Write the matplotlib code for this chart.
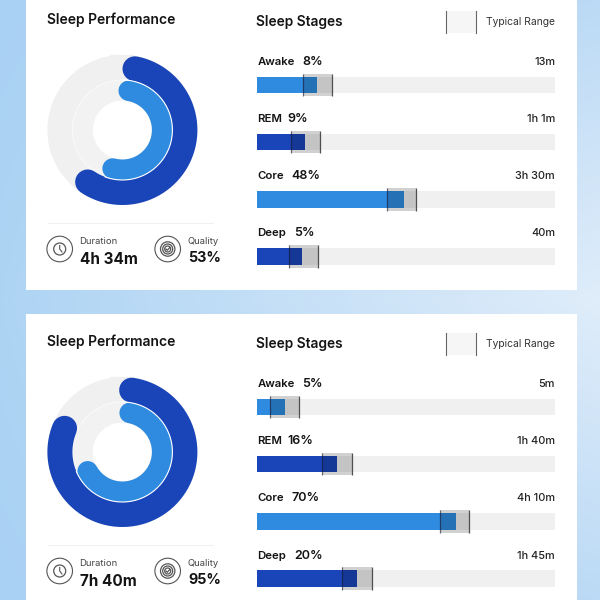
import numpy as np
import matplotlib
matplotlib.use("Agg")
import matplotlib.pyplot as plt
from matplotlib.patches import Rectangle, Circle

plt.rcParams['font.family'] = ['Inter', 'DejaVu Sans']

# ---- data ----
stages = ["Awake", "REM", "Core", "Deep"]
percent_a = ["8%", "9%", "48%", "5%"]
percent_b = ["5%", "16%", "70%", "20%"]
times_a = ["13m", "1h 1m", "3h 30m", "40m"]
times_b = ["5m", "1h 40m", "4h 10m", "1h 45m"]
bar_a = [20.1, 16.2, 49.4, 15.1]
bar_b = [9.3, 26.8, 66.9, 33.7]
range_lo_a = [15.3, 11.3, 43.5, 10.7]
range_hi_a = [25.3, 21.1, 53.3, 20.6]
range_lo_b = [4.4, 21.9, 61.4, 28.6]
range_hi_b = [14.2, 31.8, 71.2, 38.5]
ring_outer_a = (11.6, 213.8)
ring_inner_a = (9.1, 194.3)
ring_outer_b = (8.5, 292.3)
ring_inner_b = (10.5, 241.0)
duration_a, quality_a = "4h 34m", "53%"
duration_b, quality_b = "7h 40m", "95%"

DARK = "#1a45b8"
LIGHT = "#2e8bdf"
TRACK = "#f0f0f0"
INK = "#141414"
PCT_X = [302, 287, 291, 294]

fig = plt.figure(figsize=(6, 6), dpi=100)
bg = fig.add_axes([0, 0, 1, 1], zorder=0)
bg.axis("off")

# background gradient: corner colours blended across the figure
left = np.array([[0xa9, 0xd1, 0xf3], [0xae, 0xd4, 0xf4], [0xa9, 0xd1, 0xf3]], float) / 255
right = np.array([[0xbc, 0xda, 0xf5], [0xe0, 0xed, 0xfa], [0xbc, 0xda, 0xf5]], float) / 255
u = np.linspace(0, 1, 300)
v = np.linspace(0, 1, 300)
L = np.stack([np.interp(v, [0, 0.5, 1], left[:, i]) for i in range(3)], axis=-1)
Rr = np.stack([np.interp(v, [0, 0.5, 1], right[:, i]) for i in range(3)], axis=-1)
grad = L[:, None, :] * (1 - u[None, :, None]) + Rr[:, None, :] * u[None, :, None]
bg.imshow(grad, extent=(0, 600, 600, 0), aspect="auto", zorder=0)
bg.set_xlim(0, 600)
bg.set_ylim(600, 0)

def px_axes(x0, y0, x1, y1, **kw):
    return fig.add_axes([x0 / 600, 1 - y1 / 600, (x1 - x0) / 600, (y1 - y0) / 600], zorder=1, **kw)

def T(x, y, s, size, weight="normal", color=INK, ha="left"):
    bg.text(x, y, s, fontsize=size, fontweight=weight, color=color, ha=ha, va="center", zorder=5)

def icons(cy):
    for cx in (59.7, 167.7):
        bg.add_patch(Circle((cx, cy), 12.8, fc="white", ec="#555555", lw=0.8, zorder=4))
    bg.add_patch(Circle((59.7, cy), 6, fc="none", ec="#555555", lw=0.9, zorder=4))
    bg.plot([59.7, 59.7, 62], [cy - 3.5, cy, cy + 3], color="#555555", lw=0.8, zorder=4)
    for r in (7.2, 5, 3):
        bg.add_patch(Circle((167.7, cy), r, fc="none", ec="#555555", lw=0.9, zorder=4))
    bg.plot([166, 167.3, 169.6], [cy, cy + 1.3, cy - 1.3], color="#444444", lw=0.8, zorder=4)

def ring(ax, span, radius, width_px, color):
    th = np.radians(np.linspace(span[0], span[1], 240))
    ax.plot(th, np.full_like(th, radius), color=color, lw=width_px * 0.72,
            solid_capstyle="round", zorder=3)

def donut(cx, cy, outer, inner):
    R = 80
    ax = px_axes(cx - R, cy - R, cx + R, cy + R, projection="polar")
    ax.patch.set_alpha(0)
    ax.set_theta_zero_location("N")
    ax.set_theta_direction(-1)
    ax.set_ylim(0, R)
    ax.axis("off")
    full = np.radians(np.linspace(0, 360, 361))
    ax.plot(full, np.full_like(full, 62.5), color="#f0f0f0", lw=25 * 0.72, zorder=1)
    ax.plot(full, np.full_like(full, 39.75), color="#f2f2f2", lw=20.5 * 0.72, zorder=1)
    ax.plot(full, np.full_like(full, 50), color="#fafafa", lw=0.7, zorder=2)
    ring(ax, outer, 62.5, 25, DARK)
    ring(ax, inner, 39.75, 20.5, LIGHT)
    # hairline between the rings
    t = np.radians(np.linspace(inner[0] - 8, inner[1] + 6, 200))
    ax.plot(t, np.full_like(t, 50), color="white", lw=0.8, zorder=4)

def bars(y_first, bar, lo, hi):
    row = 57.2
    ax = px_axes(257, y_first - 0.45 * row, 555, y_first + 3.45 * row)
    ax.patch.set_alpha(0)
    ax.set_xlim(0, 100)
    ax.set_ylim(3.45, -0.45)
    ax.axis("off")
    y = np.arange(len(stages))
    h = 16.5 / row
    band = 22.5 / row
    ax.barh(y, [100] * len(y), height=h, color=TRACK, zorder=1)
    ax.barh(y, bar, height=h, color=[LIGHT, DARK, LIGHT, DARK], zorder=2)
    ax.barh(y, np.subtract(hi, lo), left=lo, height=band, color="black", alpha=0.18, lw=0, zorder=3)
    ax.vlines(lo, y - band / 2, y + band / 2, color="#1a1a33", alpha=0.6, lw=0.9, zorder=4)
    ax.vlines(hi, y - band / 2, y + band / 2, color="#333333", alpha=0.85, lw=0.9, zorder=4)

def panel(card_top, card_bot, off, outer, inner, duration, quality, pct, times, bar, lo, hi, row_y, bar_y, cy):
    bg.add_patch(Rectangle((26, card_top), 551, card_bot - card_top, fc="white", ec="none", zorder=1))
    T(47, 20 + off, "Sleep Performance", 10, "semibold")
    T(256.5, 22 + off, "Sleep Stages", 9.9, "semibold")
    bg.add_patch(Rectangle((446, 11 + off), 29.7, 22, fc="#f6f6f6", ec="none", zorder=2))
    bg.plot([446, 446], [11 + off, 33 + off], color="#666666", lw=0.8, zorder=3)
    bg.plot([475.7, 475.7], [11 + off, 33 + off], color="#666666", lw=0.8, zorder=3)
    T(485.5, 22 + off, "Typical Range", 7.4, color="#333333")
    bg.plot([48, 213], [223 + off, 223 + off], color="#f0f0f0", lw=0.8, zorder=2)
    icons(249 + off)
    T(79.5, 242 + off, "Duration", 6.8, color="#444444")
    T(79.5, 259 + off, duration, 11, "bold")
    T(187.5, 242 + off, "Quality", 6.8, color="#444444")
    T(188, 258 + off, quality, 10.3, "bold")
    for i, s in enumerate(stages):
        T(257.5, row_y[i], s, 8.2, "semibold")
        T(PCT_X[i], row_y[i], pct[i], 9, "semibold")
        T(555, row_y[i], times[i], 7.9, "medium", ha="right", color="#222222")
    donut(122.4, cy, outer, inner)
    bars(bar_y, bar, lo, hi)

panel(-5, 290, 0, ring_outer_a, ring_inner_a, duration_a, quality_a, percent_a, times_a,
      bar_a, range_lo_a, range_hi_a, [62, 119, 176, 233], 85, 130)
panel(314, 605, 322, ring_outer_b, ring_inner_b, duration_b, quality_b, percent_b, times_b,
      bar_b, range_lo_b, range_hi_b, [384, 441, 498, 556], 407, 452)

fig.savefig("out.png", dpi=100)
